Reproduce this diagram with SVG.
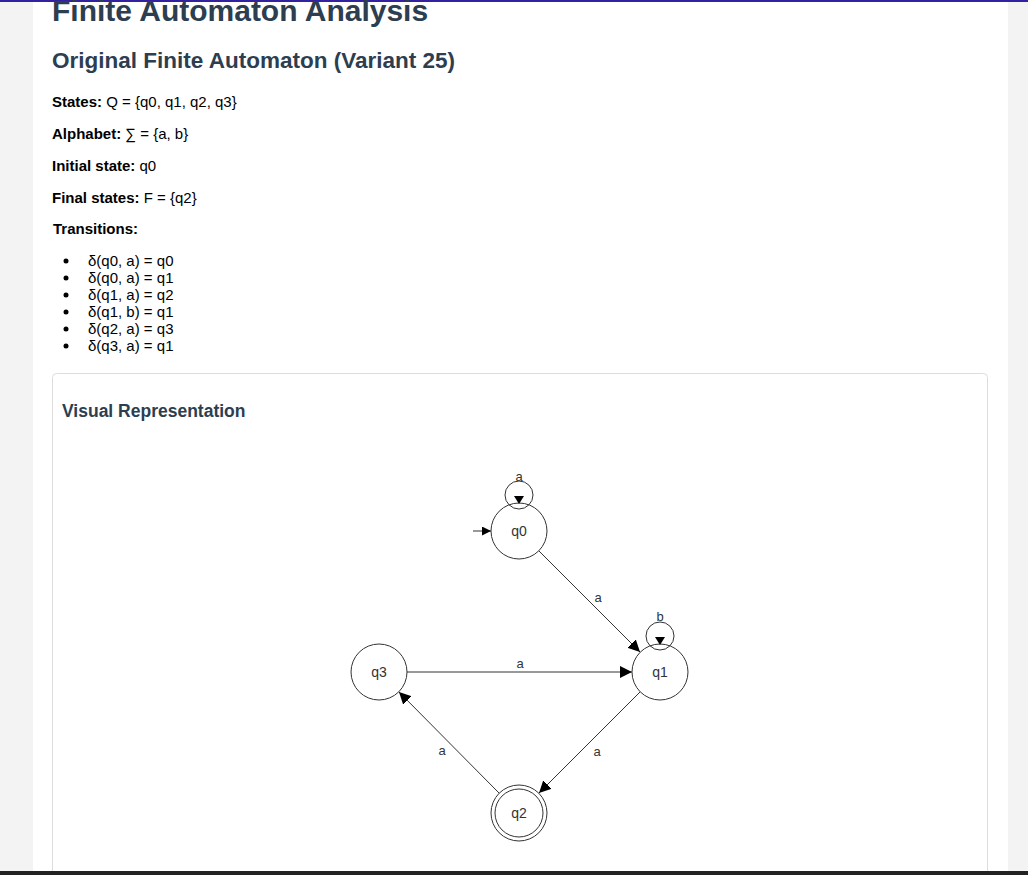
<svg xmlns="http://www.w3.org/2000/svg" width="1028" height="875" viewBox="0 0 1028 875">
<style>
.h{font-family:"Liberation Sans",Arial,sans-serif;font-weight:bold;fill:#2c3e50}
.t{font-family:"Liberation Sans",Arial,sans-serif;font-size:15px;fill:#000}
.b{font-weight:bold}
.st{fill:#fff;stroke:#333;stroke-width:1}
.lb{font-family:"Liberation Sans",Arial,sans-serif;font-size:14px;fill:#333;text-anchor:middle}
.el{font-family:"Liberation Sans",Arial,sans-serif;font-size:13px;fill:#333;text-anchor:middle}
.e{stroke:#333;stroke-width:1;fill:none}
</style>
<defs>
<marker id="ar" viewBox="0 0 10 10" refX="10" refY="5" markerWidth="12" markerHeight="12" markerUnits="userSpaceOnUse" orient="auto"><path d="M0,0 L10,5 L0,10 z" fill="#000"/></marker>
<marker id="ars" viewBox="0 0 10 10" refX="10" refY="5" markerWidth="9" markerHeight="9" markerUnits="userSpaceOnUse" orient="auto"><path d="M0,0 L10,5 L0,10 z" fill="#000"/></marker>
</defs>
<rect width="1028" height="875" fill="#f3f3f3"/>
<rect x="33" y="0" width="975" height="875" fill="#fff"/>
<rect x="0" y="0" width="1028" height="2" fill="#3322a0"/>
<text class="h" x="52" y="21" font-size="30">Finite Automaton Analysis</text>
<text class="h" x="52" y="68" font-size="22.5">Original Finite Automaton (Variant 25)</text>
<text class="t" x="52" y="107"><tspan class="b">States:</tspan> Q = {q0, q1, q2, q3}</text>
<text class="t" x="52" y="139"><tspan class="b">Alphabet:</tspan> ∑ = {a, b}</text>
<text class="t" x="52" y="171"><tspan class="b">Initial state:</tspan> q0</text>
<text class="t" x="52" y="203"><tspan class="b">Final states:</tspan> F = {q2}</text>
<text class="t b" x="53" y="234">Transitions:</text>
<g class="t">
<circle cx="66" cy="261" r="2.5"/><text class="t" x="88" y="266">δ(q0, a) = q0</text>
<circle cx="66" cy="278" r="2.5"/><text class="t" x="88" y="283">δ(q0, a) = q1</text>
<circle cx="66" cy="295" r="2.5"/><text class="t" x="88" y="300">δ(q1, a) = q2</text>
<circle cx="66" cy="312" r="2.5"/><text class="t" x="88" y="317">δ(q1, b) = q1</text>
<circle cx="66" cy="329" r="2.5"/><text class="t" x="88" y="334">δ(q2, a) = q3</text>
<circle cx="66" cy="346" r="2.5"/><text class="t" x="88" y="351">δ(q3, a) = q1</text>
</g>
<rect x="52.5" y="373.5" width="935" height="520" rx="4" fill="#fff" stroke="#ddd"/>
<text class="h" x="62" y="417" font-size="17.5">Visual Representation</text>
<g id="connectors">
<line class="e" x1="473" y1="531" x2="491" y2="531" marker-end="url(#ars)"/>
<line class="e" x1="539" y1="551" x2="640" y2="652" marker-end="url(#ar)"/>
<text class="el" x="598" y="602">a</text>
<line class="e" x1="407" y1="672" x2="632" y2="672" marker-end="url(#ar)"/>
<text class="el" x="520" y="668">a</text>
<line class="e" x1="640" y1="692" x2="539" y2="793" marker-end="url(#ar)"/>
<text class="el" x="597" y="756">a</text>
<line class="e" x1="499" y1="793" x2="399" y2="692" marker-end="url(#ar)"/>
<text class="el" x="442" y="755">a</text>
</g>
<g id="q0">
<circle class="st" cx="519" cy="531" r="28"/>
<text class="lb" x="519" y="536">q0</text>
<circle class="e" cx="519" cy="495" r="14"/>
<path d="M514,496 L524,496 L519,504 z" fill="#000"/>
<text class="el" x="519" y="481">a</text>
</g>
<g id="q1">
<circle class="st" cx="660" cy="672" r="28"/>
<text class="lb" x="660" y="677">q1</text>
<circle class="e" cx="660" cy="636" r="14"/>
<path d="M655,637 L665,637 L660,645 z" fill="#000"/>
<text class="el" x="660" y="621">b</text>
</g>
<g id="q3">
<circle class="st" cx="379" cy="672" r="28"/>
<text class="lb" x="379" y="677">q3</text>
</g>
<g id="q2">
<circle class="st" cx="519" cy="813" r="28"/>
<circle class="e" cx="519" cy="813" r="24"/>
<text class="lb" x="519" y="818">q2</text>
</g>
<rect x="0" y="871" width="1028" height="4" fill="#222"/>
</svg>
